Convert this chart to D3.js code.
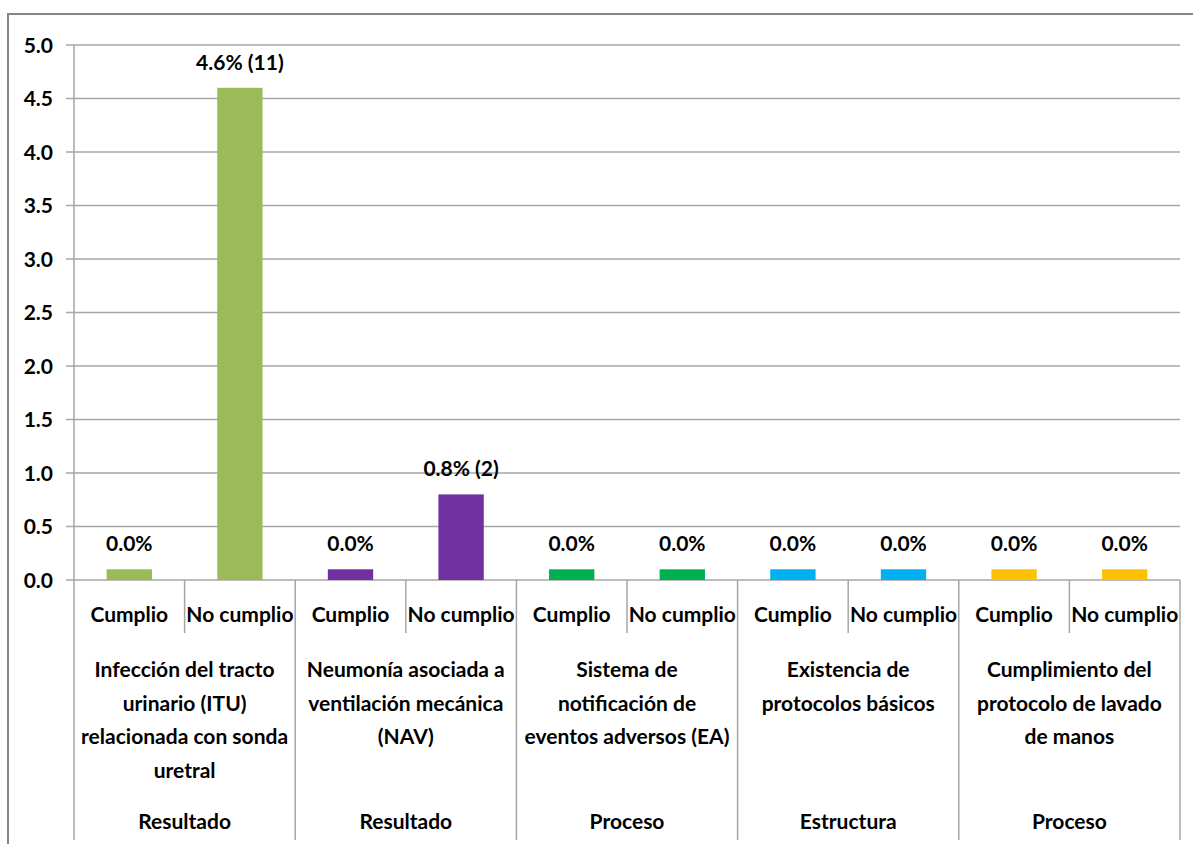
<!DOCTYPE html>
<html>
<head>
<meta charset="utf-8">
<script src="https://cdn.jsdelivr.net/npm/d3@7"></script>
<style>
  html, body { margin: 0; padding: 0; background: #fff; }
  svg text { font-family: Lato, "Open Sans", sans-serif; font-weight: bold; fill: #000; }
</style>
</head>
<body>
<svg id="chart" width="1193" height="844"></svg>
<script>
// Indicator groups (two bars each: Cumplio / No cumplio)
const groups = [
  ["Infección del tracto", "urinario (ITU)", "relacionada con sonda", "uretral"],
  ["Neumonía asociada a", "ventilación mecánica", "(NAV)"],
  ["Sistema de", "notificación de", "eventos adversos (EA)"],
  ["Existencia de", "protocolos básicos"],
  ["Cumplimiento del", "protocolo de lavado", "de manos"]
];
const groupTypes = ["Resultado", "Resultado", "Proceso", "Estructura", "Proceso"];
const subCategories = ["Cumplio", "No cumplio"];
const groupColors = ["#9BBB59", "#7030A0", "#00B050", "#00B0F0", "#FFC000"];

// Percentages per bar (group-major order) and their counts
const values = [0, 4.6, 0, 0.8, 0, 0, 0, 0, 0, 0];
const counts = [0, 11, 0, 2, 0, 0, 0, 0, 0, 0];
const yTicks = [0, 0.5, 1, 1.5, 2, 2.5, 3, 3.5, 4, 4.5, 5];

// Zero-valued bars are shown as a thin stub so every category stays visible
const zeroStub = 0.1;

const FS = 21;
const svg = d3.select("#chart");
const margin = { left: 74, right: 1180, top: 45, bottom: 580 };

// Outer chart frame
svg.append("rect")
  .attr("x", 8).attr("y", 14)
  .attr("width", 1200).attr("height", 850)
  .attr("fill", "none").attr("stroke", "#868686").attr("stroke-width", 2);

const bars = values.map((v, i) => ({
  v, n: counts[i],
  g: Math.floor(i / 2),
  sub: subCategories[i % 2],
  key: i
}));

const x = d3.scaleBand()
  .domain(bars.map(d => d.key))
  .range([margin.left, margin.right])
  .paddingInner(0).paddingOuter(0);

const y = d3.scaleLinear().domain([0, 5]).range([margin.bottom, margin.top]);

// Horizontal gridlines with small outward tick marks
const gridG = svg.append("g");
gridG.selectAll("line").data(yTicks).join("line")
  .attr("x1", margin.left - 8).attr("x2", margin.right)
  .attr("y1", d => y(d)).attr("y2", d => y(d))
  .attr("stroke", "#a6a6a6").attr("stroke-width", 1.5);

// Y axis labels
const yAxis = d3.axisLeft(y).tickValues(yTicks).tickFormat(d3.format(".1f")).tickSize(0).tickPadding(21);
const yG = svg.append("g").attr("transform", `translate(${margin.left},0)`).call(yAxis);
yG.select(".domain").remove();
yG.selectAll("text").attr("font-size", FS).attr("dy", "0.35em")
  .style("font-family", "Lato, sans-serif").style("font-weight", "bold").attr("fill", "#000");

// Vertical axis line, running down through the category table
svg.append("line")
  .attr("x1", margin.left).attr("x2", margin.left)
  .attr("y1", margin.top).attr("y2", 840)
  .attr("stroke", "#a6a6a6").attr("stroke-width", 1.5);

// Bars
const bw = x.bandwidth() * 0.41;
svg.append("g").selectAll("rect").data(bars).join("rect")
  .attr("x", d => x(d.key) + (x.bandwidth() - bw) / 2)
  .attr("width", bw)
  .attr("y", d => y(Math.max(d.v, zeroStub)))
  .attr("height", d => y(0) - y(Math.max(d.v, zeroStub)))
  .attr("fill", d => groupColors[d.g]);

// Value labels
const pct = d3.format(".1f");
svg.append("g").selectAll("text").data(bars).join("text")
  .attr("x", d => x(d.key) + x.bandwidth() / 2)
  .attr("y", d => y(Math.max(d.v, zeroStub)) - 18)
  .attr("text-anchor", "middle")
  .attr("font-size", FS)
  .text(d => d.n > 0 ? `${pct(d.v)}% (${d.n})` : `${pct(d.v)}%`);

// Category table: separators
const sepG = svg.append("g").attr("stroke", "#a6a6a6").attr("stroke-width", 1.5);
bars.forEach((d, i) => {
  if (i === 0) return;
  const xx = x(d.key);
  const long = i % 2 === 0;
  sepG.append("line")
    .attr("x1", xx).attr("x2", xx)
    .attr("y1", margin.bottom).attr("y2", long ? 840 : 633);
});
sepG.append("line")
  .attr("x1", margin.right).attr("x2", margin.right)
  .attr("y1", margin.bottom).attr("y2", 840);

// Sub-category labels
svg.append("g").selectAll("text").data(bars).join("text")
  .attr("x", d => x(d.key) + x.bandwidth() / 2)
  .attr("y", 622)
  .attr("text-anchor", "middle")
  .attr("font-size", FS)
  .text(d => d.sub);

// Group labels (multi-line) and group type labels
const groupCenter = g => (x(g * 2) + x(g * 2 + 1) + x.bandwidth()) / 2;
const gl = svg.append("g");
groups.forEach((lines, g) => {
  const t = gl.append("text")
    .attr("x", groupCenter(g)).attr("y", 677)
    .attr("text-anchor", "middle").attr("font-size", FS);
  lines.forEach((ln, k) => {
    t.append("tspan").attr("x", groupCenter(g)).attr("dy", k === 0 ? 0 : 33.5).text(ln);
  });
  gl.append("text")
    .attr("x", groupCenter(g)).attr("y", 829)
    .attr("text-anchor", "middle").attr("font-size", FS)
    .text(groupTypes[g]);
});
</script>
</body>
</html>
